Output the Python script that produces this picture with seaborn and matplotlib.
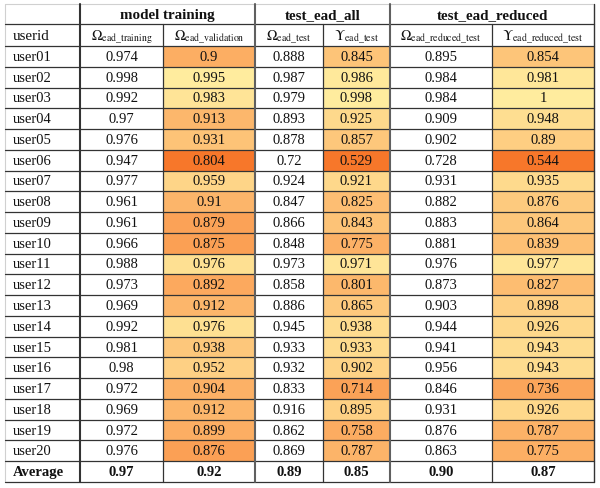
import numpy as np
import pandas as pd
import matplotlib
matplotlib.use("Agg")
import matplotlib.pyplot as plt
from matplotlib.colors import LinearSegmentedColormap
import seaborn as sns

# ---------------- data ----------------
users = [f"user{i:02d}" for i in range(1, 21)]
omega_training = [0.974, 0.998, 0.992, 0.97, 0.976, 0.947, 0.977, 0.961, 0.961, 0.966,
                  0.988, 0.973, 0.969, 0.992, 0.981, 0.98, 0.972, 0.969, 0.972, 0.976]
omega_validation = [0.9, 0.995, 0.983, 0.913, 0.931, 0.804, 0.959, 0.91, 0.879, 0.875,
                    0.976, 0.892, 0.912, 0.976, 0.938, 0.952, 0.904, 0.912, 0.899, 0.876]
omega_test = [0.888, 0.987, 0.979, 0.893, 0.878, 0.72, 0.924, 0.847, 0.866, 0.848,
              0.973, 0.858, 0.886, 0.945, 0.933, 0.932, 0.833, 0.916, 0.862, 0.869]
upsilon_test = [0.845, 0.986, 0.998, 0.925, 0.857, 0.529, 0.921, 0.825, 0.843, 0.775,
                0.971, 0.801, 0.865, 0.938, 0.933, 0.902, 0.714, 0.895, 0.758, 0.787]
omega_reduced = [0.895, 0.984, 0.984, 0.909, 0.902, 0.728, 0.931, 0.882, 0.883, 0.881,
                 0.976, 0.873, 0.903, 0.944, 0.941, 0.956, 0.846, 0.931, 0.876, 0.863]
upsilon_reduced = [0.854, 0.981, 1, 0.948, 0.89, 0.544, 0.935, 0.876, 0.864, 0.839,
                   0.977, 0.827, 0.898, 0.926, 0.943, 0.943, 0.736, 0.926, 0.787, 0.775]
averages = ["0.97", "0.92", "0.89", "0.85", "0.90", "0.87"]

group_labels = ["model training", "test_ead_all", "test_ead_reduced"]
sub_labels = [r"$\Omega_{\mathrm{ead\_training}}$", r"$\Omega_{\mathrm{ead\_validation}}$",
              r"$\Omega_{\mathrm{ead\_test}}$", r"$\Upsilon_{\mathrm{ead\_test}}$",
              r"$\Omega_{\mathrm{ead\_reduced\_test}}$", r"$\Upsilon_{\mathrm{ead\_reduced\_test}}$"]

columns = [omega_training, omega_validation, omega_test, upsilon_test, omega_reduced, upsilon_reduced]
colored = [False, True, False, True, False, True]

# ---------------- style ----------------
sns.set_style("white")
plt.rcParams["font.family"] = ["Liberation Serif", "DejaVu Serif"]
plt.rcParams["mathtext.fontset"] = "stix"

W, H = 600, 489
fig = plt.figure(figsize=(6.0, 4.89), dpi=100)

xe = [5, 80, 163, 255, 323, 390, 492, 594]   # column edges (px)
y_top, y_g, y_s, y_bot = 5, 25, 47, 483
nrows = 21
rh = (y_bot - y_s) / nrows

cmap = LinearSegmentedColormap.from_list("ob", ["#F7772A", "#FCAE63", "#FFEC9E"])

# data columns as individual seaborn heatmaps
for j, vals in enumerate(columns):
    x0, x1 = xe[j + 1], xe[j + 2]
    ax = fig.add_axes([x0 / W, 1 - y_bot / H, (x1 - x0) / W, (y_bot - y_s) / H])
    data = np.array(list(vals) + [np.nan], dtype=float).reshape(-1, 1)
    labels = np.array([f"{v:g}" for v in vals] + [averages[j]], dtype=object).reshape(-1, 1)
    df = pd.DataFrame(data, index=users + ["Average"], columns=["v"])
    if colored[j]:
        mask = np.zeros_like(data, dtype=bool)
        mask[-1, 0] = True
        sns.heatmap(df, ax=ax, cmap=cmap, vmin=np.nanmin(data), vmax=np.nanmax(data),
                    mask=mask, cbar=False, annot=False)
    else:
        sns.heatmap(df, ax=ax, cmap=cmap, mask=np.ones_like(data, dtype=bool),
                    cbar=False, annot=False)
    ax.set_xticks([]); ax.set_yticks([])
    ax.set_xlabel(""); ax.set_ylabel("")
    for i in range(nrows):
        bold = (i == nrows - 1)
        ax.text(0.5, i + 0.5, labels[i, 0], ha="center", va="center",
                fontsize=10.5, color="#111111",
                fontweight="bold" if bold else "normal")

# overlay for grid lines and header texts
ov = fig.add_axes([0, 0, 1, 1], zorder=10)
ov.set_xlim(0, W); ov.set_ylim(H, 0)
ov.axis("off")
ov.patch.set_alpha(0)

dark = "#333333"
# outer light borders
ov.plot([xe[0], xe[-1]], [y_top, y_top], color="#d0d0d0", lw=0.8)
ov.plot([xe[0], xe[0]], [y_top, y_bot], color="#d0d0d0", lw=0.8)
# horizontal lines
ov.plot([xe[0], xe[-1]], [y_g, y_g], color=dark, lw=0.9)
for i in range(nrows + 1):
    y = y_s + i * rh
    ov.plot([xe[0], xe[-1]], [y, y], color=dark, lw=0.9)
# vertical lines
ov.plot([80, 80], [y_top, y_bot], color=dark, lw=1.5)
for x in [255, 390]:
    ov.plot([x, x], [y_top, y_bot], color="#606060", lw=1.5)
for x in [163, 323, 492]:
    ov.plot([x, x], [y_g, y_bot], color=dark, lw=0.9)
ov.plot([594, 594], [y_top, y_bot], color=dark, lw=1.0)

# group headers
for k, lab in enumerate(group_labels):
    xa, xb = [(80, 255), (255, 390), (390, 594)][k]
    ov.text((xa + xb) / 2, (y_top + y_g) / 2 + 0.5, lab, ha="center", va="center",
            fontsize=10.8, fontweight="bold", color="#111111")
# sub headers
ov.text(13, (y_g + y_s) / 2, "userid", ha="left", va="center", fontsize=10.8, color="#111111")
for j, lab in enumerate(sub_labels):
    ov.text((xe[j + 1] + xe[j + 2]) / 2, (y_g + y_s) / 2 + 1, lab, ha="center", va="center",
            fontsize=10.2, color="#111111")
# row labels
for i in range(nrows):
    y = y_s + (i + 0.5) * rh
    lab = users[i] if i < 20 else "Average"
    ov.text(13, y, lab, ha="left", va="center", fontsize=10.5, color="#111111",
            fontweight="bold" if i == 20 else "normal")

fig.savefig("out.png", dpi=100)
